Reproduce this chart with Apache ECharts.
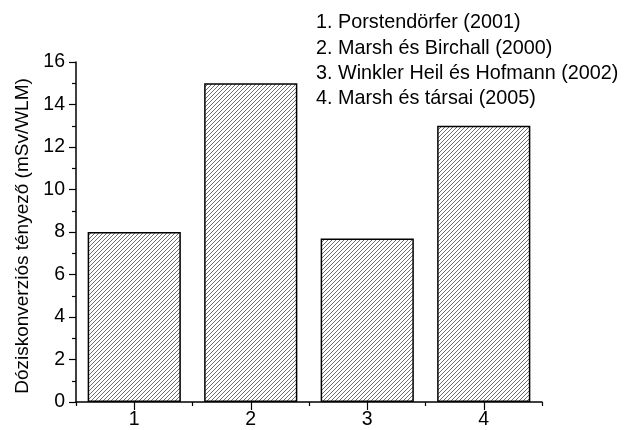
<!DOCTYPE html>
<html>
<head>
<meta charset="utf-8">
<script src="https://cdn.jsdelivr.net/npm/echarts@6/dist/echarts.min.js"></script>
<style>
  html, body { margin: 0; padding: 0; background: #fff; }
  #chart { width: 625px; height: 430px; }
</style>
</head>
<body>
<div id="chart"></div>
<script>
// Dose conversion factors reported by four studies
const categories = ['1', '2', '3', '4'];
const doseFactors = [8, 15, 7.7, 13];
const studyNotes = [
  '1. Porstendörfer (2001)',
  '2. Marsh és Birchall (2000)',
  '3. Winkler Heil és Hofmann (2002)',
  '4. Marsh és társai (2005)'
];
const yTitle = 'Dóziskonverziós tényező (mSv/WLM)';

// Diagonal hatching used to fill the bars
function hatchPattern() {
  const s = 4;
  const c = document.createElement('canvas');
  c.width = s; c.height = s;
  const g = c.getContext('2d');
  g.fillStyle = '#fff';
  g.fillRect(0, 0, s, s);
  g.strokeStyle = '#606060';
  g.lineWidth = 0.9;
  g.beginPath();
  g.moveTo(-1, s + 1); g.lineTo(s + 1, -1);
  g.moveTo(-1, 1); g.lineTo(1, -1);
  g.moveTo(s - 1, s + 1); g.lineTo(s + 1, s - 1);
  g.stroke();
  return c;
}

const font = 'Liberation Sans, Arial, sans-serif';
const chart = echarts.init(document.getElementById('chart'), null, { renderer: 'canvas' });

chart.setOption({
  animation: false,
  backgroundColor: '#fff',
  grid: { left: 76, right: 83, top: 62, bottom: 28, containLabel: false },
  xAxis: [{
    type: 'category',
    data: categories,
    boundaryGap: true,
    axisLine: { show: true, lineStyle: { color: '#000', width: 1.5 } },
    axisTick: { show: true, alignWithLabel: true, length: 8, inside: false, lineStyle: { color: '#000', width: 1.2 } },
    axisLabel: { color: '#000', fontSize: 19.5, fontFamily: font, margin: 8 },
    splitLine: { show: false }
  }, {
    // boundary ticks between the categories
    type: 'category',
    data: categories,
    position: 'bottom',
    boundaryGap: true,
    axisLine: { show: false },
    axisTick: { show: true, alignWithLabel: false, length: 4, lineStyle: { color: '#000', width: 1.2 } },
    axisLabel: { show: false },
    splitLine: { show: false }
  }],
  yAxis: {
    type: 'value',
    min: 0,
    max: 16,
    interval: 2,
    name: yTitle,
    nameLocation: 'middle',
    nameGap: 43,
    nameTextStyle: { color: '#000', fontSize: 19, fontFamily: font, padding: [0, 8, 0, 0] },
    axisLine: { show: true, lineStyle: { color: '#000', width: 1.5 } },
    axisTick: { show: true, length: 7, lineStyle: { color: '#000', width: 1.2 } },
    minorTick: { show: true, splitNumber: 2, length: 4, lineStyle: { color: '#000', width: 1.2 } },
    axisLabel: { color: '#000', fontSize: 19.5, fontFamily: font, margin: 11 },
    splitLine: { show: false }
  },
  series: [{
    type: 'bar',
    data: doseFactors,
    barWidth: '80%',
    itemStyle: {
      color: { image: hatchPattern(), repeat: 'repeat' },
      borderColor: '#000',
      borderWidth: 1.5
    }
  }],
  graphic: studyNotes.map((t, i) => ({
    type: 'text',
    left: 316,
    top: 13 + i * 25.3,
    style: { text: t, fill: '#000', fontSize: 19.8, fontFamily: font }
  }))
});
</script>
</body>
</html>
